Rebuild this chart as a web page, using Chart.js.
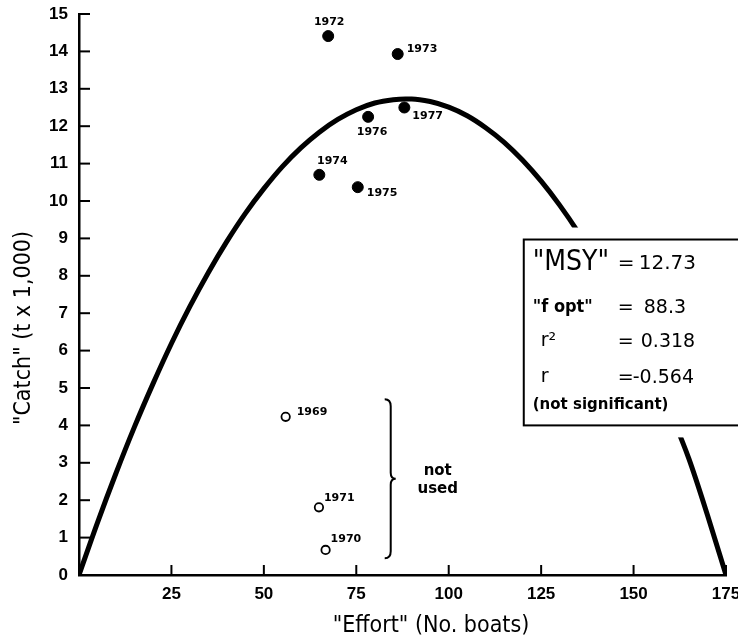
<!DOCTYPE html>
<html>
<head>
<meta charset="UTF-8">
<title>Catch vs Effort</title>
<script src="https://cdn.jsdelivr.net/npm/chart.js"></script>
<style>
  html, body { margin: 0; padding: 0; background: #fff; }
  #wrap { width: 738px; height: 644px; }
</style>
</head>
<body>
<div id="wrap"><canvas id="grafico" width="738" height="644"></canvas></div>
<script>
// valores
const anosUsados = ['1972', '1973', '1974', '1975', '1976', '1977'];
const esforcoUsados = [67.4, 86.2, 65.0, 75.4, 78.2, 88.0];
const capturaUsados = [14.41, 13.93, 10.70, 10.37, 12.25, 12.50];

const anosNaoUsados = ['1969', '1970', '1971'];
const esforcoNaoUsados = [55.9, 66.7, 64.9];
const capturaNaoUsados = [4.23, 0.67, 1.81];

// curva ajustada (MSY 12.73 em 88.3 barcos)
const curvaEsforco = [0, 5, 10, 15, 20, 25, 30, 35, 40, 45, 50, 55, 60, 65, 70, 75, 80, 85, 88.3,
  90, 95, 100, 105, 110, 115, 120, 125, 130, 135, 140, 145, 150, 155, 160, 165, 170, 175];
const curvaCaptura = [0, 1.40, 2.72, 3.96, 5.11, 6.19, 7.18, 8.09, 8.92, 9.67, 10.33, 10.92, 11.42, 11.84, 12.18, 12.44, 12.62, 12.71, 12.73,
  12.73, 12.66, 12.51, 12.28, 11.96, 11.57, 11.09, 10.53, 9.89, 9.17, 8.37, 7.48, 6.51, 5.47, 4.34, 3.10, 1.60, 0];

const ticksX = [25, 50, 75, 100, 125, 150, 175];
const ticksY = [0, 1, 2, 3, 4, 5, 6, 7, 8, 9, 10, 11, 12, 13, 14, 15];

const estatisticas = ['"MSY"', '"f opt"', 'r²', 'r', '(not significant)'];
const valoresEstat = ['12.73', '88.3', '0.318', '-0.564'];

// deslocamento dos rotulos dos anos em px: [dx, dy, alinhamento]
const posRotulosUsados = [[1, -14, 'center'], [9, -5, 'left'], [13, -14, 'center'], [9, 6, 'left'], [4, 15, 'center'], [8, 9, 'left']];
const posRotulosNaoUsados = [[11, -5, 'left'], [5, -11, 'left'], [5, -9, 'left']];

const fonteAno = 'bold 11px "DejaVu Sans", sans-serif';
const fonteTick = { family: '"Liberation Sans", Arial, sans-serif', size: 17, weight: 'bold' };

function pontos(xs, ys) {
  return xs.map((v, i) => ({ x: v, y: ys[i] }));
}

const extras = {
  id: 'extras',
  afterDatasetsDraw(chart) {
    const ctx = chart.ctx;
    const x = chart.scales.x, y = chart.scales.y;
    const area = chart.chartArea;
    ctx.save();

    // ticks pra dentro
    ctx.strokeStyle = '#000';
    ctx.lineWidth = 2;
    ticksX.forEach(v => {
      const px = x.getPixelForValue(v);
      ctx.beginPath(); ctx.moveTo(px, area.bottom); ctx.lineTo(px, area.bottom - 10); ctx.stroke();
    });
    ticksY.forEach(v => {
      const py = y.getPixelForValue(v);
      ctx.beginPath(); ctx.moveTo(area.left, py); ctx.lineTo(area.left + 11, py); ctx.stroke();
    });

    // rotulos dos anos
    ctx.fillStyle = '#000';
    ctx.font = fonteAno;
    ctx.textBaseline = 'middle';
    anosUsados.forEach((a, i) => {
      const p = posRotulosUsados[i];
      ctx.textAlign = p[2];
      ctx.fillText(a, x.getPixelForValue(esforcoUsados[i]) + p[0], y.getPixelForValue(capturaUsados[i]) + p[1]);
    });
    anosNaoUsados.forEach((a, i) => {
      const p = posRotulosNaoUsados[i];
      ctx.textAlign = p[2];
      ctx.fillText(a, x.getPixelForValue(esforcoNaoUsados[i]) + p[0], y.getPixelForValue(capturaNaoUsados[i]) + p[1]);
    });

    // chave "}" e "not used"
    const bx = x.getPixelForValue(83.5);
    const bTop = y.getPixelForValue(4.7), bBot = y.getPixelForValue(0.45);
    const bMid = (bTop + bBot) / 2;
    ctx.lineWidth = 2;
    ctx.beginPath();
    ctx.moveTo(bx - 3, bTop);
    ctx.quadraticCurveTo(bx + 3, bTop, bx + 3, bTop + 7);
    ctx.lineTo(bx + 3, bMid - 6);
    ctx.quadraticCurveTo(bx + 3, bMid, bx + 8, bMid);
    ctx.quadraticCurveTo(bx + 3, bMid, bx + 3, bMid + 6);
    ctx.lineTo(bx + 3, bBot - 7);
    ctx.quadraticCurveTo(bx + 3, bBot, bx - 3, bBot);
    ctx.stroke();
    ctx.font = 'bold 15px "DejaVu Sans", sans-serif';
    ctx.textAlign = 'center';
    ctx.fillText('not', bx + 50, bMid - 8);
    ctx.fillText('used', bx + 50, bMid + 10);

    // caixa de estatisticas
    const cx = x.getPixelForValue(120.3);
    const cTop = y.getPixelForValue(8.97), cBot = y.getPixelForValue(4.0);
    ctx.fillStyle = '#fff';
    ctx.fillRect(cx - 12, cTop - 12, chart.width, cBot - cTop + 24);
    ctx.strokeStyle = '#000';
    ctx.lineWidth = 2;
    ctx.strokeRect(cx, cTop, chart.width, cBot - cTop);
    ctx.fillStyle = '#000';
    ctx.textAlign = 'left';
    ctx.font = '28px "DejaVu Sans Condensed", "DejaVu Sans", sans-serif';
    ctx.fillText(estatisticas[0], cx + 9, cTop + 23);
    ctx.font = '20px "DejaVu Sans", sans-serif';
    ctx.fillText('=', cx + 94, cTop + 24);
    ctx.fillText(valoresEstat[0], cx + 115, cTop + 24);
    ctx.font = 'bold 18px "DejaVu Sans Condensed", "DejaVu Sans", sans-serif';
    ctx.fillText(estatisticas[1], cx + 9, cTop + 68);
    ctx.font = '19px "DejaVu Sans", sans-serif';
    ctx.fillText('=', cx + 94, cTop + 69);
    ctx.fillText(valoresEstat[1], cx + 120, cTop + 69);
    ctx.fillText(estatisticas[2], cx + 17, cTop + 102);
    ctx.fillText('=', cx + 94, cTop + 103);
    ctx.fillText(valoresEstat[2], cx + 117, cTop + 103);
    ctx.fillText(estatisticas[3], cx + 17, cTop + 138);
    ctx.fillText('=', cx + 94, cTop + 139);
    ctx.fillText(valoresEstat[3], cx + 109, cTop + 139);
    ctx.font = 'bold 15px "DejaVu Sans", sans-serif';
    ctx.fillText(estatisticas[4], cx + 9, cTop + 166);

    // titulos dos eixos
    ctx.font = '23px "Liberation Sans Narrow", "DejaVu Sans Condensed", sans-serif';
    ctx.textAlign = 'center';
    ctx.fillText('"Effort" (No. boats)', 431, 626);
    ctx.translate(24, 328);
    ctx.rotate(-Math.PI / 2);
    ctx.fillText('"Catch" (t x 1,000)', 0, 0);
    ctx.restore();
  }
};

function semPadding(s) {
  s.paddingLeft = 0; s.paddingRight = 0; s.paddingTop = 0; s.paddingBottom = 0;
}

new Chart(document.getElementById('grafico'), {
  type: 'scatter',
  data: {
    datasets: [
      {
        label: 'usados',
        data: pontos(esforcoUsados, capturaUsados),
        backgroundColor: '#000',
        borderColor: '#000',
        pointRadius: 5.5,
        order: 1
      },
      {
        label: 'nao usados',
        data: pontos(esforcoNaoUsados, capturaNaoUsados),
        backgroundColor: '#fff',
        borderColor: '#000',
        borderWidth: 1.8,
        pointRadius: 4.2,
        order: 2
      },
      {
        label: 'curva',
        data: pontos(curvaEsforco, curvaCaptura),
        showLine: true,
        borderColor: '#000',
        borderWidth: 5,
        pointRadius: 0,
        cubicInterpolationMode: 'monotone',
        order: 3
      }
    ]
  },
  options: {
    responsive: false,
    animation: false,
    events: [],
    layout: { padding: { top: 14, right: 12, left: 0, bottom: 0 }, autoPadding: false },
    plugins: { legend: { display: false }, tooltip: { enabled: false } },
    scales: {
      x: {
        type: 'linear', min: 0, max: 175,
        afterBuildTicks: s => { s.ticks = ticksX.map(v => ({ value: v })); },
        afterFit: s => { s.height = 69; semPadding(s); },
        grid: { display: false, drawTicks: false },
        border: { display: true, color: '#000', width: 2.5 },
        ticks: { color: '#000', font: fonteTick, padding: 9, maxRotation: 0 }
      },
      y: {
        type: 'linear', min: 0, max: 15,
        afterBuildTicks: s => { s.ticks = ticksY.map(v => ({ value: v })); },
        afterFit: s => { s.width = 79; semPadding(s); },
        grid: { display: false, drawTicks: false },
        border: { display: true, color: '#000', width: 2.5 },
        ticks: { color: '#000', font: fonteTick, padding: 11 }
      }
    }
  },
  plugins: [extras]
});
</script>
</body>
</html>
